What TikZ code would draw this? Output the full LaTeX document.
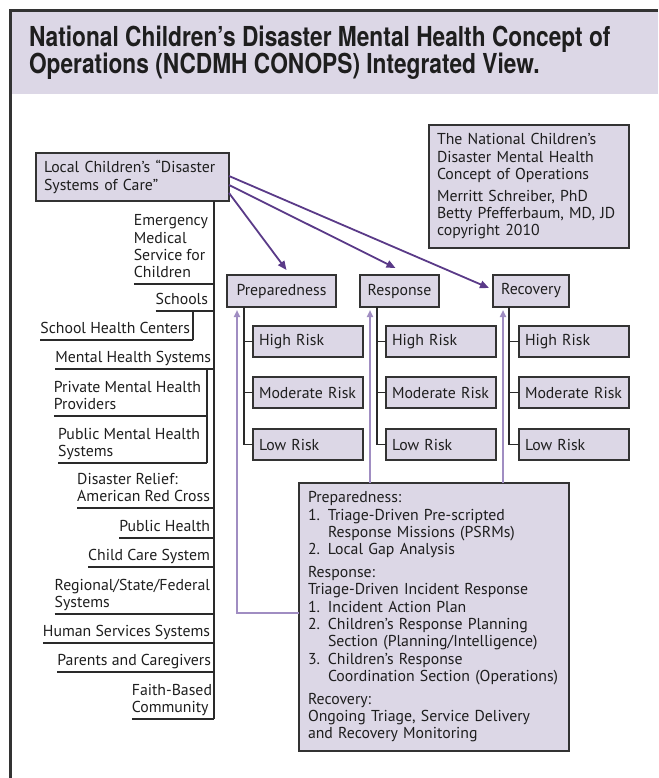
\documentclass[tikz,border=0pt]{standalone}
\usepackage{fontspec}
\setmainfont{PT Sans}
\newfontfamily\titlefont[FakeStretch=0.826]{TeX Gyre Heros}
\usetikzlibrary{arrows.meta}
\definecolor{lav}{HTML}{DCD7E6}
\definecolor{boxline}{HTML}{333333}
\definecolor{treeline}{HTML}{2A2A2A}
\definecolor{txt}{HTML}{1E1E1E}
\definecolor{darkpur}{HTML}{5A3A88}
\definecolor{lightpur}{HTML}{A08DC2}
\begin{document}
\begin{tikzpicture}[x=1pt,y=-1pt,
  every node/.style={inner sep=0pt, outer sep=0pt},
  base/.style={font=\fontsize{15.8}{17.3}\selectfont, text=txt},
  box/.style={base, draw=boxline, fill=lav, line width=1.3pt},
  lbox/.style={box, anchor=north west, align=left},
  cbox/.style={box, anchor=north west, align=center},
  riskbox/.style={lbox, inner xsep=6pt, text width=98pt, minimum width=110pt, minimum height=31pt},
  phasebox/.style={cbox, minimum height=32pt},
  item/.style={base, anchor=south east, align=left, inner ysep=1pt, execute at end node=\strut},
  tree/.style={draw=treeline, line width=1.2pt},
  darkarrow/.style={draw=darkpur, line width=1.8pt, -{Triangle[length=9pt,width=7.5pt]}},
  lightarrow/.style={draw=lightpur, line width=1.8pt, -{Triangle[length=7pt,width=6pt]}}
]
\useasboundingbox (0,0) rectangle (658,778);
% title band and frame
\fill[lav] (12,12) rectangle (658,94);
\draw[boxline, line width=3pt] (10.5,778) -- (10.5,10.5) -- (658,10.5);
\node[anchor=base west, text=txt, font=\titlefont\bfseries\fontsize{27.5}{28}\selectfont] (title1) at (29,47) {National Children’s Disaster Mental Health Concept of};
\node[anchor=base west, text=txt, font=\titlefont\bfseries\fontsize{27.5}{28}\selectfont] (title2) at (29,74) {Operations (NCDMH CONOPS) Integrated View.};

% local systems box
\node[lbox, inner xsep=8pt, text width=177pt, minimum height=48pt] (local) at (36,153)
  {\mbox{Local Children’s “Disaster}\\\mbox{Systems of Care”}};

% info box
\node[lbox, inner xsep=8pt, text width=184pt, minimum height=123pt] (info) at (429,125)
  {\mbox{The National Children’s}\\\mbox{Disaster Mental Health}\\\mbox{Concept of Operations}\\[4.5pt]\mbox{Merritt Schreiber, PhD}\\\mbox{Betty Pfefferbaum, MD, JD}\\copyright 2010};

% phase boxes
\node[phasebox, minimum width=109pt] (prep) at (227,275) {Preparedness};
\node[phasebox, minimum width=79pt] (resp) at (360,275) {Response};
\node[phasebox, minimum width=76pt] (rec) at (493,275) {Recovery};

% risk boxes
\node[riskbox] (hr1) at (253,326) {\mbox{High Risk}};
\node[riskbox] (mr1) at (253,377) {\mbox{Moderate Risk}};
\node[riskbox] (lr1) at (253,429) {\mbox{Low Risk}};
\node[riskbox] (hr2) at (386,326) {\mbox{High Risk}};
\node[riskbox] (mr2) at (386,377) {\mbox{Moderate Risk}};
\node[riskbox] (lr2) at (386,429) {\mbox{Low Risk}};
\node[riskbox] (hr3) at (519,326) {\mbox{High Risk}};
\node[riskbox] (mr3) at (519,377) {\mbox{Moderate Risk}};
\node[riskbox] (lr3) at (519,429) {\mbox{Low Risk}};

% bottom description box
\node[lbox, inner xsep=9pt, text width=252pt, minimum height=268pt] (desc) at (299,483)
  {Preparedness:\\
   \mbox{1. Triage-Driven Pre-scripted}\\
   \hspace*{20pt}\mbox{Response Missions (PSRMs)}\\
   2. Local Gap Analysis\\[5.5pt]
   Response:\\
   \mbox{Triage-Driven Incident Response}\\
   1. Incident Action Plan\\
   \mbox{2. Children’s Response Planning}\\
   \hspace*{20pt}\mbox{Section (Planning/Intelligence)}\\
   3. Children’s Response\\
   \hspace*{20pt}\mbox{Coordination Section (Operations)}\\[5.5pt]
   Recovery:\\
   \mbox{Ongoing Triage, Service Delivery}\\
   \mbox{and Recovery Monitoring}};

% left list of systems
\coordinate (sp) at (214,0);
\coordinate (sp2) at (193,0);
\coordinate (sp3) at (207,0);
\node[item] (ems) at (208,284) {Emergency\\Medical\\Service for\\Children};
\node[item] (schools) at (208,311) {Schools};
\node[item] (shc) at (190,340) {School Health Centers};
\node[item] (mhs) at (211,369) {Mental Health Systems};
\node[item] (pmh) at (201,416) {Private Mental Health\\Providers};
\node[item] (pubmh) at (200,463) {Public Mental Health\\Systems};
\node[item] (drc) at (210,508) {Disaster Relief:\\American Red Cross};
\node[item] (ph) at (210,538) {Public Health};
\node[item] (ccs) at (210,567) {Child Care System};
\node[item] (rsf) at (210,614) {Regional/State/Federal\\Systems};
\node[item] (hss) at (210,643) {Human Services Systems};
\node[item] (pc) at (211,672) {Parents and Caregivers};
\node[item] (fbc) at (212,719) {Faith-Based\\Community};

\draw[tree] (local.south -| sp) -- (fbc.south -| sp);
\foreach \n in {ems,schools,mhs,drc,ph,ccs,rsf,hss,pc,fbc}
  \draw[tree] (\n.south west) -- (\n.south -| sp);
\draw[tree] (schools.south -| sp2) -- (shc.south -| sp2);
\draw[tree] (shc.south west) -- (shc.south -| sp2);
\draw[tree] (mhs.south -| sp3) -- (pubmh.south -| sp3);
\draw[tree] (pmh.south west) -- (pmh.south -| sp3);
\draw[tree] (pubmh.south west) -- (pubmh.south -| sp3);

% risk trees
\coordinate (c1) at ([xshift=17pt]prep.south west);
\coordinate (c2) at ([xshift=17pt]resp.south west);
\coordinate (c3) at ([xshift=16pt]rec.south west);
\draw[tree] (c1) |- (lr1.west);
\draw[tree] (hr1.west -| c1) -- (hr1.west);
\draw[tree] (mr1.west -| c1) -- (mr1.west);
\draw[tree] (c2) |- (lr2.west);
\draw[tree] (hr2.west -| c2) -- (hr2.west);
\draw[tree] (mr2.west -| c2) -- (mr2.west);
\draw[tree] (c3) |- (lr3.west);
\draw[tree] (hr3.west -| c3) -- (hr3.west);
\draw[tree] (mr3.west -| c3) -- (mr3.west);

% dark arrows from local box
\draw[darkarrow] ([yshift=1pt]local.east) -- ([xshift=-4pt,yshift=3pt]rec.west);
\draw[darkarrow] ([yshift=-8pt]local.east) -- ([xshift=-4pt,yshift=7pt]resp.north);
\draw[darkarrow] ([yshift=-16pt]local.east) -- ([xshift=5pt,yshift=5pt]prep.north);

% light feedback arrows
\coordinate (u1) at ([xshift=10pt,yshift=-3pt]prep.south west);
\coordinate (u2) at ([xshift=10pt,yshift=-3pt]resp.south west);
\coordinate (u3) at ([xshift=10pt,yshift=-3pt]rec.south west);
\draw[lightarrow] ([yshift=-130pt]desc.north west) -| (u1);
\draw[lightarrow] (desc.north -| u2) -- (u2);
\draw[lightarrow] (desc.north -| u3) -- (u3);
\end{tikzpicture}
\end{document}
